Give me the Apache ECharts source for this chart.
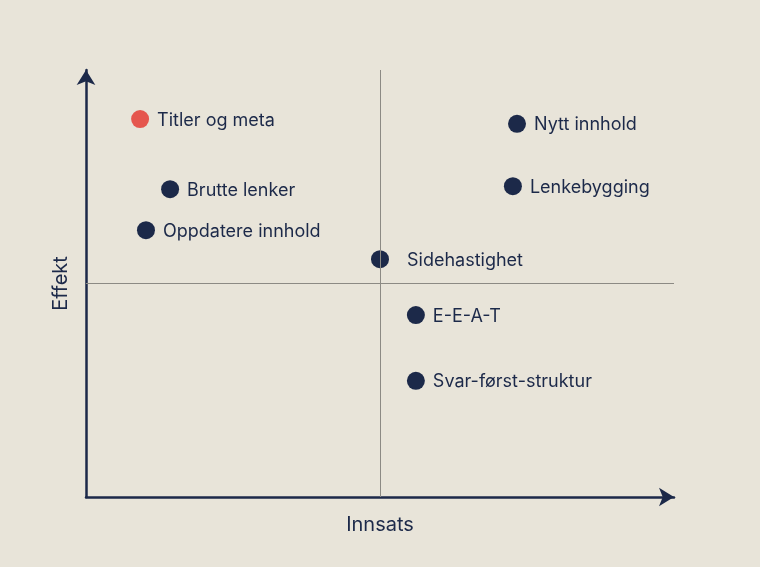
<!DOCTYPE html>
<html><head><meta charset="utf-8">
<script src="https://cdn.jsdelivr.net/npm/echarts@6/dist/echarts.min.js"></script>
<style>html,body{margin:0;padding:0;background:#e8e4d9;}#c{width:760px;height:567px;}</style>
</head><body><div id="c"></div>
<script>
const names = ["Titler og meta","Brutte lenker","Oppdatere innhold","Sidehastighet","Nytt innhold","Lenkebygging","E-E-A-T","Svar-først-struktur"];
const innsats = [0.92,1.43,1.02,5.0,7.33,7.26,5.61,5.61];
const effekt = [8.85,7.21,6.25,5.57,8.74,7.28,4.26,2.72];
const highlight = ["Titler og meta"];
const xName = "Innsats", yName = "Effekt";
const navy = "#1c2949", red = "#e5564e";
const data = names.map((n,i)=>({
  value:[innsats[i],effekt[i]], name:n,
  itemStyle:{color: highlight.includes(n)?red:navy, opacity:1},
  label:{distance: n==="Sidehastighet"?18:8}
}));
const chart = echarts.init(document.getElementById('c'));
chart.setOption({
  backgroundColor:"#e8e4d9",
  textStyle:{fontFamily:"Inter"},
  grid:{left:86,right:86,top:70,bottom:70},
  xAxis:{type:'value',min:0,max:10,name:xName,nameLocation:'middle',nameGap:18,
    nameTextStyle:{color:navy,fontSize:20,fontFamily:"Inter"},
    axisLine:{lineStyle:{color:navy,width:2.5},symbol:['none','arrow'],symbolSize:[14,15]},
    axisTick:{show:false},axisLabel:{show:false},splitLine:{show:false}},
  yAxis:{type:'value',min:0,max:10,name:yName,nameLocation:'middle',nameGap:15,nameRotate:90,
    nameTextStyle:{color:navy,fontSize:20,fontFamily:"Inter"},
    axisLine:{show:true,lineStyle:{color:navy,width:2.5},symbol:['none','arrow'],symbolSize:[14,15]},
    axisTick:{show:false},axisLabel:{show:false},splitLine:{show:false}},
  series:[{
    type:'scatter',symbolSize:18,data:data,
    label:{show:true,position:'right',formatter:'{b}',color:navy,fontSize:18,fontFamily:"Inter",offset:[0,1]},
    emphasis:{disabled:true},
    markLine:{silent:true,symbol:'none',label:{show:false},
      lineStyle:{color:'#8c8a84',width:1,type:'solid',opacity:1},
      data:[{xAxis:5},{yAxis:5}]},
    z:3
  }]
});
</script></body></html>
